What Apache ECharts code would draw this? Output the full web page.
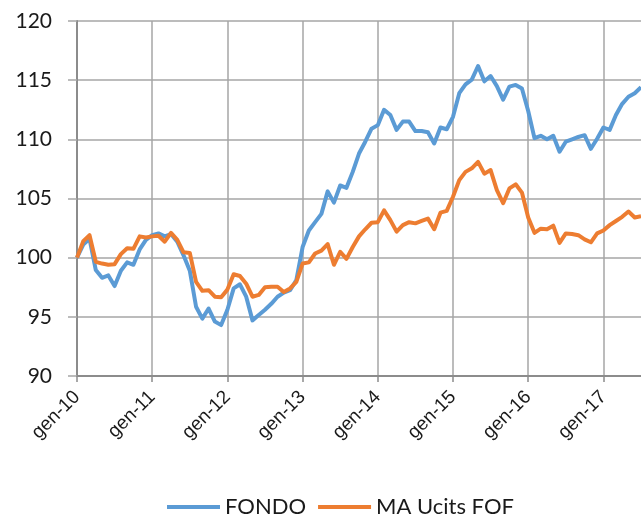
<!DOCTYPE html>
<html>
<head>
<meta charset="utf-8">
<script src="https://cdn.jsdelivr.net/npm/echarts@6/dist/echarts.min.js"></script>
<style>
  html, body { margin: 0; padding: 0; background: #ffffff; }
  #myChart { width: 641px; height: 517px; }
</style>
</head>
<body>
<div id="myChart"></div>
<script>
// mesi, da gen-10 a lug-17
const mesi = ['gen', 'feb', 'mar', 'apr', 'mag', 'giu', 'lug', 'ago', 'set', 'ott', 'nov', 'dic'];
const anni = ['10', '11', '12', '13', '14', '15', '16', '17'];
const categorie = [];
anni.forEach(a => mesi.forEach(m => categorie.push(m + '-' + a)));
categorie.length = 91;

const fondo = [
  100, 101.1, 101.6, 98.95, 98.3, 98.5, 97.6, 98.9, 99.6, 99.4, 100.7, 101.5,
  101.9, 102.05, 101.8, 102.0, 101.35, 100.2, 98.9, 95.85, 94.85, 95.7, 94.6, 94.3,
  95.6, 97.4, 97.75, 96.7, 94.7, 95.15, 95.6, 96.1, 96.7, 97.05, 97.25, 98.1,
  100.9, 102.3, 103.0, 103.7, 105.6, 104.65, 106.1, 105.9, 107.25, 108.8, 109.8, 110.9,
  111.2, 112.5, 112.05, 110.8, 111.5, 111.5, 110.7, 110.7, 110.6, 109.65, 111.0, 110.85,
  111.9, 113.9, 114.65, 115.05, 116.2, 114.9, 115.35, 114.5, 113.35, 114.45, 114.6, 114.3,
  112.4, 110.1, 110.3, 110.0, 110.3, 108.95, 109.8, 110.0, 110.2, 110.35, 109.2, 110.05,
  111.0, 110.8, 112.05, 113.0, 113.6, 113.9, 114.4
];

const maUcitsFof = [
  100, 101.4, 101.9, 99.65, 99.5, 99.4, 99.45, 100.3, 100.8, 100.75, 101.8, 101.7,
  101.8, 101.85, 101.35, 102.1, 101.5, 100.45, 100.4, 97.95, 97.2, 97.25, 96.7, 96.65,
  97.3, 98.6, 98.45, 97.8, 96.7, 96.85, 97.5, 97.55, 97.55, 97.1, 97.4, 97.95,
  99.5, 99.6, 100.35, 100.6, 101.15, 99.4, 100.5, 99.9, 100.9, 101.8, 102.4, 102.95,
  103.0, 104.0, 103.17, 102.2, 102.75, 103.0, 102.9, 103.1, 103.3, 102.4, 103.8, 103.95,
  105.15, 106.55, 107.25, 107.55, 108.1, 107.1, 107.4, 105.7, 104.6, 105.85, 106.2, 105.5,
  103.4, 102.1, 102.45, 102.4, 102.7, 101.25, 102.05, 102.0, 101.9, 101.55, 101.3, 102.05,
  102.3, 102.75, 103.1, 103.45, 103.9, 103.4, 103.5
];

const yMin = 90, yMax = 120, yStep = 5;

const gridColor = '#a6a6a6';
const axisColor = '#8c8c8c';

let myChart = echarts.init(document.getElementById('myChart'));
myChart.setOption({
  animation: false,
  grid: { left: 77, top: 21, right: -4, bottom: 141 },
  legend: {
    left: 162,
    top: 491,
    itemWidth: 53,
    itemHeight: 4,
    itemGap: 12,
    icon: 'rect',
    textStyle: { fontFamily: 'Lato', fontSize: 22, color: '#1a1a1a' },
    data: ['FONDO', 'MA Ucits FOF']
  },
  xAxis: {
    type: 'category',
    boundaryGap: false,
    data: categorie,
    axisLine: { lineStyle: { color: axisColor, width: 2 } },
    axisTick: { show: true, interval: 11, length: 6, lineStyle: { color: axisColor, width: 1.5 } },
    splitLine: { show: true, interval: 11, lineStyle: { color: gridColor, width: 1.5 } },
    axisLabel: {
      interval: 11,
      rotate: 45,
      margin: 18,
      fontFamily: 'Liberation Sans',
      fontSize: 19,
      color: '#1a1a1a'
    }
  },
  yAxis: {
    type: 'value',
    min: yMin,
    max: yMax,
    interval: yStep,
    axisLine: { show: true, lineStyle: { color: axisColor, width: 2 } },
    axisTick: { show: true, length: 9, lineStyle: { color: gridColor, width: 1.5 } },
    splitLine: { lineStyle: { color: gridColor, width: 1.5 } },
    axisLabel: { margin: 25, fontFamily: 'Lato', fontSize: 21, color: '#1a1a1a' }
  },
  series: [
    {
      name: 'FONDO',
      type: 'line',
      data: fondo,
      showSymbol: false,
      symbol: 'none',
      color: '#5b9bd5',
      lineStyle: { width: 4, join: 'round' }
    },
    {
      name: 'MA Ucits FOF',
      type: 'line',
      data: maUcitsFof,
      showSymbol: false,
      symbol: 'none',
      color: '#ed7d31',
      lineStyle: { width: 4, join: 'round' }
    }
  ]
});
</script>
</body>
</html>
